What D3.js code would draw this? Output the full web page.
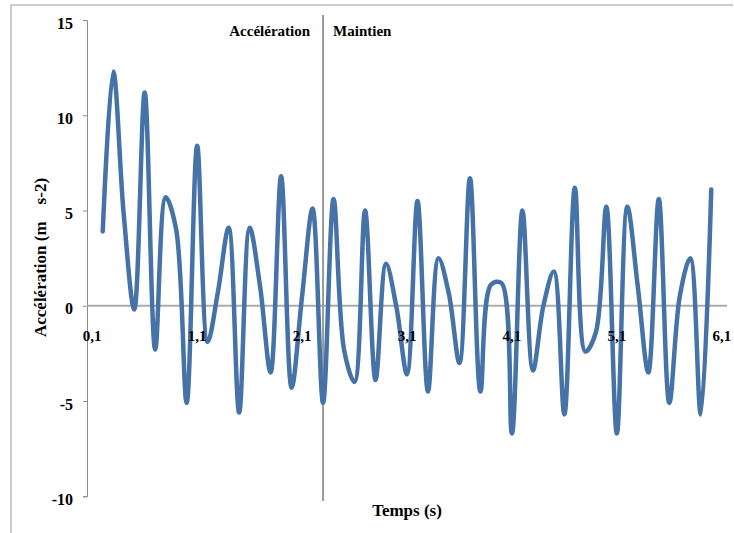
<!DOCTYPE html>
<html>
<head>
<meta charset="utf-8">
<script src="https://cdn.jsdelivr.net/npm/d3@7"></script>
<style>
  html, body { margin: 0; padding: 0; background: #fff; }
  svg { display: block; }
  svg text { font-family: "Liberation Serif", "Times New Roman", Times, "DejaVu Serif", serif; font-weight: bold; fill: #000; }
</style>
</head>
<body>
<div id="chart"></div>
<script>
// categories (s), one every 0.1 s
var times = ['0,1','0,2','0,3','0,4','0,5','0,6','0,7','0,8','0,9','1',
  '1,1','1,2','1,3','1,4','1,5','1,6','1,7','1,8','1,9','2',
  '2,1','2,2','2,3','2,4','2,5','2,6','2,7','2,8','2,9','3',
  '3,1','3,2','3,3','3,4','3,5','3,6','3,7','3,8','3,9','4',
  '4,1','4,2','4,3','4,4','4,5','4,6','4,7','4,8','4,9','5',
  '5,1','5,2','5,3','5,4','5,5','5,6','5,7','5,8','5,9','6','6,1'];

// acceleration (m s-2)
var accel = [null, 3.9, 12.3, 4.8, -0.2, 11.2, -2.3, 5.7, 4.0, -5.1,
  8.4, -1.9, 0.8, 4.1, -5.6, 4.1, 1.0, -3.5, 6.8, -4.3,
  0.5, 5.1, -5.1, 5.6, -2.3, -4.0, 5.0, -3.9, 2.2, -0.1,
  -3.6, 5.5, -4.5, 2.5, 0.6, -3.0, 6.7, -4.5, 1.1, 1.2,
  -6.7, 5.0, -3.4, 0.0, 1.8, -5.7, 6.2, -2.4, -1.4, 5.2,
  -6.7, 5.2, 1.0, -3.5, 5.6, -5.1, 0.5, 2.5, -5.7, 6.1, null];

var xLabels = ['0,1','1,1','2,1','3,1','4,1','5,1','6,1'];
var yTicks = [-10, -5, 0, 5, 10, 15];
var phaseSplit = '2,3';
var phaseNames = ['Accélération', 'Maintien'];

// params
var width = 734, height = 533;
var plotLeft = 87, plotRight = 727, plotTop = 20, plotBottom = 496.3;

var svg = d3.select('#chart').append('svg')
  .attr('width', width)
  .attr('height', height);

// outer frame (top + left edges)
svg.append('path')
  .attr('d', 'M11,533 L11,5 L733,5')
  .attr('fill', 'none')
  .attr('stroke', '#bdbdbd')
  .attr('stroke-width', 1.5);

var x = d3.scalePoint().domain(times).range([plotLeft, plotRight]).padding(0.5);
var y = d3.scaleLinear().domain([-10, 15]).range([plotBottom, plotTop]);

// y axis
var yAxis = svg.append('g')
  .attr('transform', `translate(${plotLeft},0)`)
  .call(d3.axisLeft(y).tickValues(yTicks).tickSize(4).tickPadding(10).tickFormat(d3.format('d')));
yAxis.attr('font-family', null).attr('font-size', null);
yAxis.select('.domain').attr('stroke', '#8c8c8c');
yAxis.selectAll('.tick line').attr('stroke', '#8c8c8c');
yAxis.selectAll('.tick text')
  .attr('fill', null)
  .style('font-size', '16px')
  .attr('dy', '0.5em')
  .text(d => (d < 0 ? '-' + Math.abs(d) : d));

// zero line (category axis)
svg.append('line')
  .attr('x1', plotLeft).attr('x2', plotRight)
  .attr('y1', y(0)).attr('y2', y(0))
  .attr('stroke', '#ababab')
  .attr('stroke-width', 2);

// phase separator
var splitX = x(phaseSplit);
svg.append('line')
  .attr('x1', splitX).attr('x2', splitX)
  .attr('y1', 15).attr('y2', 501)
  .attr('stroke', '#9a9a9a')
  .attr('stroke-width', 2);

svg.append('text')
  .attr('x', splitX - 13).attr('y', 36)
  .attr('text-anchor', 'end')
  .style('font-size', '15px')
  .text(phaseNames[0]);
svg.append('text')
  .attr('x', splitX + 10).attr('y', 36)
  .style('font-size', '15px')
  .text(phaseNames[1]);

// curve
var points = times.map((t, i) => ({ t: t, v: accel[i] }));
var line = d3.line()
  .defined(d => d.v !== null)
  .x(d => x(d.t))
  .y(d => y(d.v))
  .curve(d3.curveCatmullRom);

svg.append('path')
  .datum(points)
  .attr('fill', 'none')
  .attr('stroke', '#4572a7')
  .attr('stroke-width', 4.5)
  .attr('stroke-linejoin', 'round')
  .attr('stroke-linecap', 'round')
  .attr('d', line);

// category labels (on top of the curve)
svg.append('g').selectAll('text')
  .data(xLabels)
  .enter().append('text')
  .attr('x', d => x(d))
  .attr('y', y(0) + 35)
  .attr('text-anchor', 'middle')
  .style('font-size', '15px')
  .text(d => d);

// axis titles
svg.append('text')
  .attr('x', 407).attr('y', 516)
  .attr('text-anchor', 'middle')
  .style('font-size', '17px')
  .text('Temps (s)');

svg.append('text')
  .attr('transform', 'translate(46,257.5) rotate(-90)')
  .attr('text-anchor', 'middle')
  .style('font-size', '17px')
  .style('white-space', 'pre')
  .text('Accélération (m    s-2)');
</script>
</body>
</html>
